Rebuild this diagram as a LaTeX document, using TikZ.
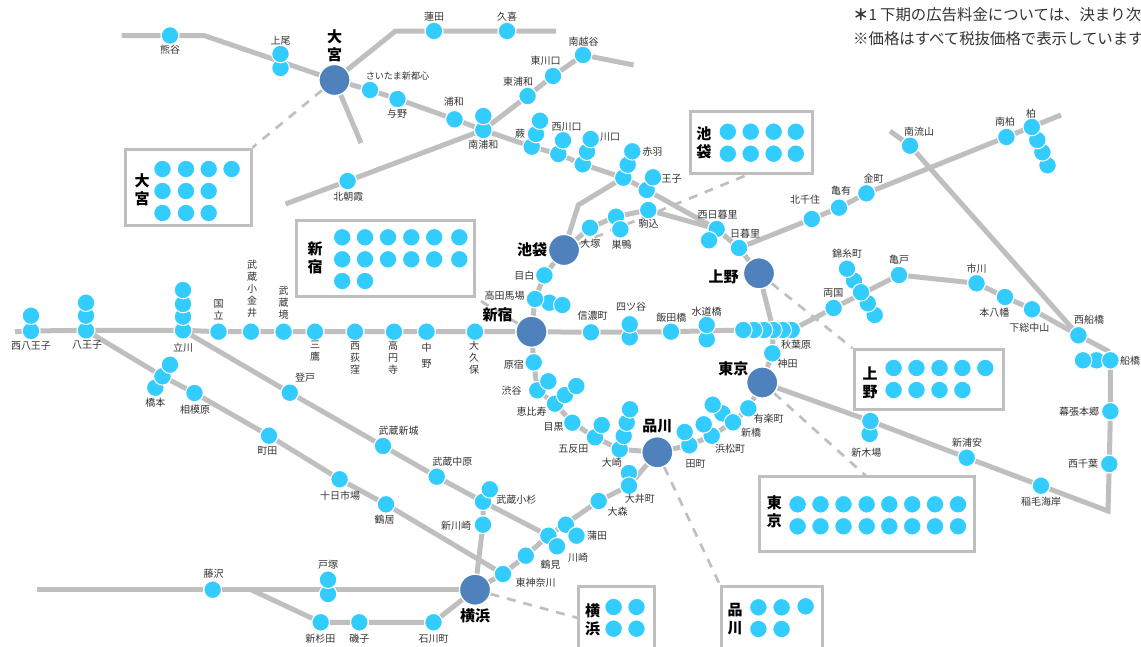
\documentclass[tikz,border=0pt]{standalone}
\usepackage{fontspec}
\setmainfont{Noto Sans CJK JP}
\usetikzlibrary{backgrounds}
\definecolor{ln}{HTML}{BFBFBF}
\definecolor{dot}{HTML}{33CCFF}
\definecolor{hubc}{HTML}{4F81BD}
\definecolor{txt}{HTML}{333333}
\tikzset{
 dotnode/.style={circle,fill=dot,draw=white,line width=1pt,minimum size=17.6pt,inner sep=0pt},
 hubnode/.style={circle,fill=hubc,draw=white,line width=1.2pt,minimum size=31pt,inner sep=0pt},
 track/.style={draw=ln,line width=5pt},
 lead/.style={draw=ln,line width=2.7pt,dash pattern=on 9pt off 8pt},
 frame/.style={rectangle,draw=ln,line width=3pt,inner sep=0pt,fill=none},
 lbl/.style={text=txt,inner sep=0pt,align=center,font=\fontsize{10}{12}\selectfont},
 blbl/.style={text=black,inner sep=0pt,align=center,font=\bfseries\fontsize{15}{18}\selectfont},
 note/.style={text=txt,inner sep=0pt,anchor=west,font=\fontsize{15.4}{18}\selectfont}
}
\newcounter{lbn}
\newcommand{\sta}[3]{\node[dotnode] (#1) at (#2,#3) {};}
\newcommand{\hubn}[3]{\node[hubnode] (#1) at (#2,#3) {};}
\newcommand{\lab}[3]{\stepcounter{lbn}\node[lbl] (lb\thelbn) at (#1,#2) {#3};}
\newcommand{\labb}[3]{\stepcounter{lbn}\node[blbl] (lb\thelbn) at (#1,#2) {#3};}
\newcommand{\fdot}[3]{\node[dotnode] (#1) at (#2,#3) {};}
\begin{document}
\begin{tikzpicture}[x=1pt,y=-1pt]
\useasboundingbox (0,0) rectangle (1141,646);
\clip (0,0) rectangle (1141,646);
% free ends and bends
\coordinate (e1) at (121.5,35.5);
\coordinate (b1) at (204,35.5);
\coordinate (b2) at (395.6,31);
\coordinate (e2) at (556,31);
\coordinate (e3) at (361,143);
\coordinate (e4) at (285.5,204);
\coordinate (e5) at (633.6,65);
\coordinate (b3) at (578.3,205);
\coordinate (e6) at (15,331.7);
\coordinate (e7) at (37,589.7);
\coordinate (b4) at (251,589.7);
\coordinate (e8) at (1061,115);
\coordinate (e9) at (890,131);
\coordinate (b5) at (1108,511);
\coordinate (b6) at (1108,351);
\coordinate (d1) at (866.4,476.3);
\coordinate (d2) at (719,583);
\coordinate (d3) at (578,618);
\coordinate (d4) at (750,173.7);
% frames
\node[frame,minimum width=125.5pt,minimum height=76pt] (fOmiya) at (188.25,187) {};
\node[frame,minimum width=122pt,minimum height=62pt] (fIke) at (751.5,142.7) {};
\node[frame,minimum width=178pt,minimum height=76pt] (fShinj) at (385.5,258.7) {};
\node[frame,minimum width=149.5pt,minimum height=60pt] (fUeno) at (928.8,379.7) {};
\node[frame,minimum width=214.6pt,minimum height=75pt] (fTokyo) at (867.1,513.8) {};
\node[frame,minimum width=101.7pt,minimum height=73.7pt] (fShina) at (771.9,623.2) {};
\node[frame,minimum width=76.7pt,minimum height=73.7pt] (fYoko) at (616.4,623.2) {};
% frame dots
\foreach \x/\i in {162.5/1,186/2,208.7/3,231.6/4} {\fdot{oa\i}{\x}{169}}
\foreach \x/\i in {162.5/1,186/2,208.7/3} {\fdot{ob\i}{\x}{191}\fdot{oc\i}{\x}{213}}
\foreach \x/\i in {727.8/1,750.7/2,773.6/3,795.8/4} {\fdot{ia\i}{\x}{131.7}\fdot{ib\i}{\x}{153.7}}
\foreach \x/\i in {342.2/1,365/2,388/3,411.3/4,434.2/5,459.3/6} {\fdot{sa\i}{\x}{237.3}\fdot{sb\i}{\x}{259.3}}
\foreach \x/\i in {342.2/1,365/2} {\fdot{sc\i}{\x}{281}}
\foreach \x/\i in {893.6/1,916.5/2,939.5/3,962.4/4,985.3/5} {\fdot{ua\i}{\x}{368}}
\foreach \x/\i in {893.6/1,916.5/2,939.5/3,962.4/4} {\fdot{ub\i}{\x}{390}}
\foreach \x/\i in {797.6/1,820.5/2,843.5/3,866.7/4,889.3/5,912.2/6,935/7,958/8} {\fdot{ta\i}{\x}{504.3}\fdot{tb\i}{\x}{526.3}}
\fdot{ha1}{758.4}{607.3}\fdot{ha2}{781.6}{607.3}\fdot{ha3}{805.6}{606.3}
\fdot{hb1}{758.4}{629}\fdot{hb2}{781.6}{629}
\fdot{ya1}{613.6}{607}\fdot{ya2}{636.5}{607}\fdot{yb1}{613.6}{628.7}\fdot{yb2}{636.5}{628.7}
% hubs
\hubn{omiya}{334.5}{80}
\hubn{ikebukuro}{564}{250}
\hubn{ueno}{759}{273.3}
\hubn{shinjuku}{531.5}{331.7}
\hubn{tokyo}{762.2}{382.5}
\hubn{shinagawa}{657.3}{452.3}
\hubn{yokohama}{475}{589.7}
% stations
\sta{kumagaya}{170}{35.5}
\sta{ageoB}{280.5}{68}\sta{ageoA}{280.5}{54}
\sta{hasuda}{434}{31}\sta{kuki}{507}{31}
\sta{saitama}{370}{90}\sta{yono}{397.5}{99}\sta{urawa}{454.5}{119.3}
\sta{murawaB}{483.3}{130}\sta{murawaA}{483.3}{116}
\sta{higurawa}{527.6}{96}\sta{higkawa}{553}{76}\sta{mkoshi}{583}{55}
\sta{kita}{347.6}{181}
\sta{warC}{531.7}{146.7}\sta{warB}{536}{134}\sta{warA}{540}{120.7}
\sta{nkwB}{558.3}{154}\sta{nkwA}{563}{140.3}
\sta{kwC}{582.7}{164.3}\sta{kwB}{587}{151.7}\sta{kwA}{590.7}{139}
\sta{akaC}{623.3}{177.7}\sta{akaB}{627.7}{164.7}\sta{akaA}{632.3}{151.3}
\sta{ojiB}{646.7}{190}\sta{ojiA}{653}{177.3}
\sta{komagome}{648.3}{210}
\sta{sugB}{616}{216.7}\sta{sugA}{620.3}{229.3}
\sta{otsuka}{590}{227.7}
\sta{nnipA}{716.7}{229}\sta{nnipB}{709}{240.3}
\sta{nippori}{739}{248}
\sta{kitasenju}{811.8}{219}\sta{kameari}{839}{207.7}\sta{kanamachi}{866.4}{193.3}
\sta{mkashi}{1006.4}{137}
\sta{kasD}{1047.5}{165.3}\sta{kasC}{1042.4}{152.3}\sta{kasB}{1037.3}{140}\sta{kasA}{1031.8}{127}
\sta{mnagare}{910}{145.7}
\sta{ryogoku}{833.6}{308}
\sta{kinE}{874.7}{315}\sta{kinD}{867.8}{303.3}\sta{kinB}{854}{280.7}\sta{kinA}{847}{268.7}\sta{kinC}{861}{292.3}
\sta{kameido}{899}{275}\sta{ichikawa}{976.5}{283.3}\sta{motoy}{1005}{297}\sta{shimosa}{1032}{309.3}
\sta{nfuna}{1078.4}{335.3}
\sta{funaB}{1096.5}{360.3}\sta{funaA}{1083}{360.3}\sta{funaC}{1110.4}{360.3}
\sta{makuhari}{1110.4}{411.3}\sta{nchiba}{1109.3}{464}
\sta{inage}{1041}{485.7}\sta{shinura}{966.7}{457.7}
\sta{kibaB}{869.6}{434}\sta{kibaA}{870.4}{421}
\foreach \n/\x in {akiF/791.7,akiE/782.7,akiD/773.3,akiC/764,akiB/754,akiA/743.3} {\sta{\n}{\x}{330}}
\sta{kanda}{772.3}{353.3}
\sta{nhaB}{31}{331}\sta{nhaA}{31}{315.7}
\sta{hacC}{86}{330.3}\sta{hacB}{86}{315.7}\sta{hacA}{86}{302.7}
\sta{tacD}{183}{330.3}\sta{tacC}{183}{316.7}\sta{tacB}{183}{304}\sta{tacA}{183}{290}
\sta{kunitachi}{218.5}{331.7}\sta{koganei}{251}{331.7}\sta{sakai}{283.6}{331.7}\sta{mitaka}{315}{331.7}
\sta{ogikubo}{355}{331.7}\sta{koenji}{394}{331.7}\sta{nakano}{426.5}{331.7}\sta{okubo}{475}{331.7}
\sta{shinano}{591}{332.3}
\sta{yotsB}{629.7}{337.3}\sta{yotsA}{629.7}{324.3}
\sta{iidabashi}{671}{331.7}
\sta{suiB}{706.7}{339.3}\sta{suiA}{706.7}{325}
\sta{mejiro}{544.4}{275.3}
\sta{takB}{549.3}{302.7}\sta{takA}{535}{299}\sta{takC}{562.3}{305}
\sta{harajuku}{533.7}{362.3}
\sta{shibB}{537.3}{390.3}\sta{shibA}{548.3}{381.3}
\sta{ebiC}{555}{403.7}\sta{ebiB}{565}{395}\sta{ebiA}{576.3}{386}
\sta{meguro}{572.3}{422.7}
\sta{gotB}{595}{437.3}\sta{gotA}{601.7}{425}
\sta{osaD}{619.7}{449.3}\sta{osaC}{623.7}{436}\sta{osaB}{626.7}{422.7}\sta{osaA}{630}{409.3}
\sta{tamB}{689.3}{445.3}\sta{tamA}{684.7}{432}
\sta{hamB}{711.7}{435.7}\sta{hamA}{703.7}{424.3}
\sta{shibsB}{722.3}{413.3}\sta{shibsC}{733}{422.3}\sta{shibsA}{712.7}{404.7}
\sta{yuraku}{748.3}{408.3}
\sta{oimA}{629}{473}\sta{oimB}{629}{485.7}
\sta{omori}{598.7}{501}
\sta{kamA}{565.8}{524.7}\sta{kamB}{576.5}{535.7}
\sta{kawB}{548.4}{535.7}\sta{kawA}{557}{546.3}
\sta{tsurumi}{525.8}{555.7}\sta{higkana}{503}{574}
\sta{kosB}{483}{501.7}\sta{kosA}{489.8}{489.3}
\sta{shinkawa}{483}{524.7}
\sta{nakahara}{436.7}{476.7}\sta{shinjo}{383}{446}\sta{noborito}{289.8}{392.7}
\sta{kamoi}{386}{504.3}\sta{tokaichi}{339.6}{479.3}\sta{machida}{269}{435.7}\sta{sagami}{194.5}{393}
\sta{hasC}{155.3}{387.7}\sta{hasB}{162.5}{376.3}\sta{hasA}{170}{364.7}
\sta{fujisawa}{212.7}{589.7}
\sta{totB}{328}{594}\sta{totA}{328}{579.7}
\sta{shinsugi}{320.7}{622.3}\sta{isogo}{359.3}{622.3}\sta{ishikawa}{433.5}{622.3}
% connectors
\begin{scope}[on background layer]
\draw[track] (e1)--(kumagaya)--(b1)--(omiya);
\draw[track] (omiya)--(b2)--(hasuda)--(kuki)--(e2);
\draw[track] (omiya)--(saitama)--(yono)--(urawa)--(murawaB)--(warC)--(nkwB)--(kwC)--(akaC)--(ojiB)--(nnipA)--(nippori)--(ueno);
\draw[track] (omiya)--(e3);
\draw[track] (e4)--(kita)--(murawaB)--(higurawa)--(higkawa)--(mkoshi)--(e5);
\draw[track] (akaC)--(b3)--(ikebukuro);
\draw[track] (ikebukuro)--(otsuka)--(sugB)--(komagome)--(nnipA);
\draw[track] (nippori)--(kitasenju)--(kameari)--(kanamachi)--(mkashi)--(e8);
\draw[track] (e9)--(mnagare)--(nfuna);
\draw[track] (ueno)--(akiD)--(kanda)--(tokyo);
\draw[track] (akiF)--(ryogoku)--(kameido)--(ichikawa)--(motoy)--(shimosa)--(nfuna)--(b6)--(funaC)--(makuhari)--(nchiba)--(b5)--(inage)--(shinura)--(kibaA)--(tokyo);
\draw[track] (e6)--(nhaB)--(hacC)--(tacD)--(kunitachi)--(koganei)--(sakai)--(mitaka)--(ogikubo)--(koenji)--(nakano)--(okubo)--(shinjuku)--(shinano)--(iidabashi)--(akiA);
\draw[track] (ikebukuro)--(mejiro)--(takA)--(shinjuku)--(harajuku)--(shibB)--(ebiC)--(meguro)--(gotB)--(osaD)--(shinagawa)--(tamB)--(hamB)--(shibsC)--(yuraku)--(tokyo);
\draw[track] (shinagawa)--(oimB)--(omori)--(kawB)--(tsurumi)--(higkana)--(yokohama);
\draw[track] (hacC)--(hasB)--(sagami)--(machida)--(tokaichi)--(kamoi)--(higkana);
\draw[track] (tacD)--(noborito)--(shinjo)--(nakahara)--(kosB)--(kawB);
\draw[track] (kosB)--(shinkawa)--(yokohama);
\draw[track] (e7)--(fujisawa)--(b4)--(yokohama);
\draw[track] (b4)--(shinsugi)--(isogo)--(ishikawa)--(yokohama);
\draw[lead] (omiya)--(fOmiya.north east);
\draw[lead] (ikebukuro)--(d4);
\draw[lead] (shinjuku)--(fShinj.south east);
\draw[lead] (ueno)--(fUeno.north west);
\draw[lead] (tokyo)--(d1);
\draw[lead] (shinagawa)--(d2)--(fShina.north west);
\draw[lead] (yokohama)--(d3);
\end{scope}
% note
\node[note] (n1) at (853,15) {\textbf{＊}1\hspace{3pt}下期の広告料金については、決まり次};
\node[note] (n2) at (853,39) {※価格はすべて税抜価格で表示しています};
% big labels
\labb{334.5}{46}{大\\宮}
\labb{142}{190}{大\\宮}
\labb{315}{258}{新\\宿}
\labb{703.8}{143}{池\\袋}
\labb{870}{383}{上\\野}
\labb{774.4}{512}{東\\京}
\labb{735}{619.5}{品\\川}
\labb{592.5}{619.5}{横\\浜}
\labb{532}{249.3}{池袋}
\labb{723.5}{276.7}{上野}
\labb{497.5}{315}{新宿}
\labb{733.3}{369}{東京}
\labb{657.3}{426.3}{品川}
\labb{475}{615.7}{横浜}
% station labels
\lab{170}{50}{熊谷}\lab{280.5}{40.7}{上尾}\lab{397.5}{75.7}{\fontsize{9.1}{12}\selectfont さいたま新都心}
\lab{434}{16.7}{蓮田}\lab{507}{16.7}{久喜}\lab{397}{114}{与野}\lab{453.8}{101.7}{浦和}
\lab{518}{81.7}{東浦和}\lab{545.5}{61}{東川口}\lab{583.5}{41.3}{南越谷}\lab{483.3}{144.7}{南浦和}
\lab{520}{133.3}{蕨}\lab{566.7}{126.7}{西川口}\lab{610}{137}{川口}\lab{652.3}{151.3}{赤羽}
\lab{671.7}{178.7}{王子}\lab{648.7}{224}{駒込}\lab{621.7}{245}{巣鴨}\lab{590.3}{243.3}{大塚}
\lab{717.7}{214.7}{西日暮里}\lab{745}{234}{日暮里}\lab{348.4}{196.7}{北朝霞}
\lab{805}{199.3}{北千住}\lab{841}{191}{亀有}\lab{873.6}{178.7}{金町}\lab{919}{131.3}{南流山}
\lab{1005}{122}{南柏}\lab{1031}{114}{柏}\lab{847}{253.3}{錦糸町}\lab{899}{259.3}{亀戸}
\lab{976.5}{268.3}{市川}\lab{833.3}{293.3}{両国}\lab{994.4}{312.3}{本八幡}\lab{1029.3}{327.7}{下総中山}
\lab{1089}{319.3}{西船橋}\lab{1130}{360.7}{船橋}\lab{1079}{411.7}{幕張本郷}\lab{1083}{464}{西千葉}
\lab{1041}{502}{稲毛海岸}\lab{967}{442.3}{新浦安}\lab{866.4}{452.3}{新木場}\lab{796}{345}{秋葉原}
\lab{787.5}{363.7}{神田}\lab{768.5}{418.3}{有楽町}\lab{751}{433}{新橋}\lab{730}{448.3}{浜松町}
\lab{695.5}{464}{田町}\lab{611.8}{462.7}{大崎}\lab{639.8}{499}{大井町}\lab{617.6}{512}{大森}
\lab{597}{536}{蒲田}\lab{578}{557.7}{川崎}\lab{550.5}{564.3}{鶴見}\lab{535.6}{582.3}{東神奈川}
\lab{456}{526}{新川崎}\lab{516.4}{499.7}{武蔵小杉}\lab{452.4}{462}{武蔵中原}\lab{398.5}{431}{武蔵新城}
\lab{384.7}{519.7}{鶴居}\lab{340}{495.7}{十日市場}\lab{267.3}{451}{町田}\lab{195}{409.7}{相模原}
\lab{155.3}{403}{橋本}\lab{305}{378}{登戸}\lab{213.5}{574}{藤沢}\lab{328}{565}{戸塚}
\lab{320.4}{639}{新杉田}\lab{359.3}{639}{磯子}\lab{433.5}{639}{石川町}
\lab{31}{345.7}{西八王子}\lab{87}{345}{八王子}\lab{183}{347.7}{立川}
\lab{218.5}{310}{国\\立}\lab{252}{288.3}{武\\蔵\\小\\金\\井}\lab{283.6}{303}{武\\蔵\\境}
\lab{315}{351.3}{三\\鷹}\lab{355}{358}{西\\荻\\窪}\lab{393}{358}{高\\円\\寺}\lab{426.5}{356}{中\\[4pt]野}\lab{474}{358}{大\\久\\保}
\lab{513.8}{364.7}{原宿}\lab{511.6}{390.3}{渋谷}\lab{531.6}{411.3}{恵比寿}\lab{553.5}{427.3}{目黒}
\lab{573.3}{448.7}{五反田}\lab{524.4}{275.7}{目白}\lab{504.7}{296}{高田馬場}
\lab{592.7}{315.7}{信濃町}\lab{631}{306.7}{四ツ谷}\lab{671.3}{317.3}{飯田橋}\lab{706.7}{311.7}{水道橋}
\end{tikzpicture}
\end{document}
